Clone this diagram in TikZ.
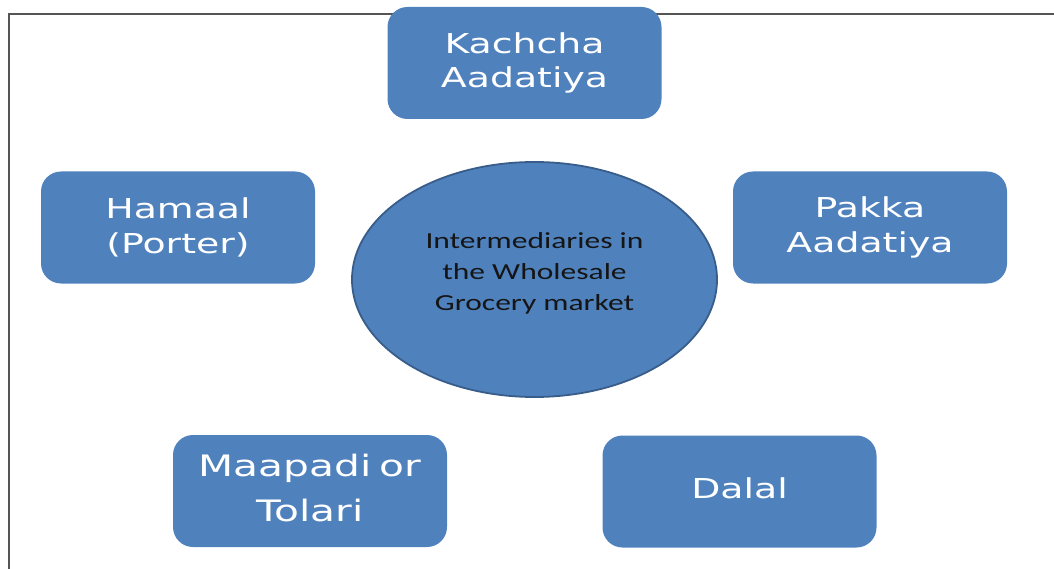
\documentclass[tikz,border=0pt]{standalone}
\usepackage{fontspec}
\usetikzlibrary{shapes.geometric}
% Wide sans for the role boxes, Calibri-metric face for the hub
\newfontfamily\labelfont[FakeStretch=1.38]{DejaVu Sans}
\newfontfamily\hubfont[FakeStretch=1.37]{Carlito}
\definecolor{officeblue}{HTML}{4F81BD}
\definecolor{officeedge}{HTML}{385D8A}
\definecolor{framegray}{HTML}{555555}
\definecolor{hubink}{HTML}{151515}

\begin{document}
\begin{tikzpicture}[x=1pt,y=-1pt,
  rolebox/.style={rectangle, rounded corners=20pt, fill=officeblue,
    minimum width=274pt, minimum height=112pt, inner sep=0pt,
    text=white, align=center,
    font=\labelfont\fontsize{27.4}{34.5}\selectfont},
  bigrole/.style={rolebox, font=\labelfont\fontsize{29.5}{45}\selectfont},
  hub/.style={ellipse, fill=officeblue, draw=officeedge, line width=1.8pt,
    minimum width=365pt, minimum height=235pt, inner sep=0pt},
  hubtext/.style={text=hubink, align=center,
    font=\hubfont\fontsize{23}{31}\selectfont},
  framerule/.style={draw=framegray, line width=2pt}]
\useasboundingbox (0,0) rectangle (1054,569);

% outer frame (only its top and left edges fall inside the page)
\coordinate (frameBL) at (8.5,575);
\coordinate (frameTL) at (8.5,14);
\coordinate (frameTR) at (1060,14);
\draw[framerule] (frameBL) -- (frameTL) -- (frameTR);

% central hub
\node[hub, label={[hubtext, yshift=6.5pt]center:{Intermediaries in\\the Wholesale\\Grocery market}}]
  (hub) at (534.5,279.5) {};

% intermediaries around the hub
\node[rolebox] (kachcha) at (524.5,63)  {Kachcha\\Aadatiya};
\node[rolebox] (hamaal)  at (178,227.5) {Hamaal\\(Porter)};
\node[rolebox] (pakka)   at (870,227.5) {Pakka\\Aadatiya};
\node[bigrole, text depth=6pt] (maapadi) at (310,491) {Maapadi\hspace{8pt}or\\Tolari};
\node[rolebox, text depth=6pt] (dalal) at (739.5,491.5) {Dalal};
\end{tikzpicture}
\end{document}
